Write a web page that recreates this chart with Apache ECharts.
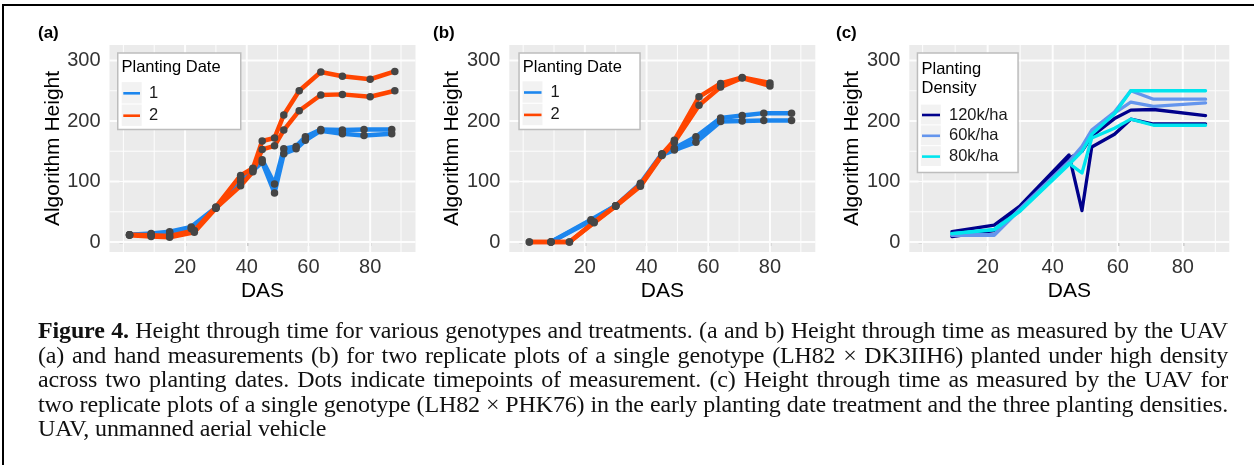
<!DOCTYPE html>
<html>
<head>
<meta charset="utf-8">
<script src="https://cdn.jsdelivr.net/npm/echarts@6/dist/echarts.min.js"></script>
<style>
  html, body { margin: 0; padding: 0; background: #fff; }
  #wrap { position: relative; width: 1254px; height: 465px; overflow: hidden; }
  #chart { position: absolute; left: 0; top: 0; width: 1254px; height: 465px; }
  #frame { position: absolute; left: 2px; top: 4px; right: -4px; bottom: -4px; border-left: 2px solid #000; border-top: 2px solid #000; }
  #caption { position: absolute; left: 38px; top: 318px; width: 1190px; font-family: "Liberation Serif", "DejaVu Serif", serif; font-size: 24px; letter-spacing: -0.15px; line-height: 24.5px; color: #111; }
  #caption .ln { white-space: nowrap; text-align: justify; text-align-last: justify; }
  #caption .last { text-align: left; text-align-last: left; }
</style>
</head>
<body>
<div id="wrap">
  <div id="chart"></div>
  <div id="frame"></div>
  <div id="caption">
    <div class="ln"><b>Figure 4.</b> Height through time for various genotypes and treatments. (a and b) Height through time as measured by the UAV</div>
    <div class="ln">(a) and hand measurements (b) for two replicate plots of a single genotype (LH82 × DK3IIH6) planted under high density</div>
    <div class="ln">across two planting dates. Dots indicate timepoints of measurement. (c) Height through time as measured by the UAV for</div>
    <div class="ln">two replicate plots of a single genotype (LH82 × PHK76) in the early planting date treatment and the three planting densities.</div>
    <div class="ln last">UAV, unmanned aerial vehicle</div>
  </div>
</div>
<script>
// ---------- tick values ----------
const xMajorTicks = [20, 40, 60, 80];
const xMinorTicks = [0, 10, 30, 50, 70, 90];
const yMajorTicks = [0, 100, 200, 300];
const yMinorTicks = [50, 150, 250];

// ---------- categories ----------
const panelLabels = ['(a)', '(b)', '(c)'];
const dateNames = ['1', '2'];
const densityNames = ['120k/ha', '60k/ha', '80k/ha'];

// ---------- (a) UAV height, [DAS, height] ----------
const aDate1RepA = [[2,12],[9,14],[15,17],[22,25],[30,57],[38,106],[42,121],[45,136],[49,96],[52,154],[56,158],[59,174],[64,186],[71,185],[78,186],[87,186]];
const aDate1RepB = [[2,12],[9,13],[15,15],[22,22],[30,56],[38,100],[42,118],[45,132],[49,81],[52,146],[56,154],[59,168],[64,184],[71,179],[78,176],[87,179]];
const aDate2RepA = [[2,12],[9,11],[15,10],[23,19],[30,58],[38,110],[42,122],[45,167],[49,172],[52,210],[57,250],[64,281],[71,274],[80,269],[88,282]];
const aDate2RepB = [[2,11],[9,9],[15,8],[23,16],[30,56],[38,93],[42,116],[45,153],[49,159],[52,185],[57,217],[64,243],[71,244],[80,240],[88,250]];

// ---------- (b) hand-measured height ----------
const bDate1RepA = [[9,0],[22,37],[30,60],[38,97],[45,146],[49,155],[56,174],[64,205],[71,209],[78,213],[87,213]];
const bDate1RepB = [[9,0],[22,35],[30,60],[38,94],[45,144],[49,152],[56,165],[64,199],[71,200],[78,201],[87,201]];
const bDate2RepA = [[2,0],[9,0],[15,0],[23,33],[30,60],[38,95],[45,145],[49,168],[57,240],[64,262],[71,272],[80,263]];
const bDate2RepB = [[2,0],[9,0],[15,0],[23,32],[30,59],[38,92],[45,143],[49,165],[57,226],[64,256],[71,271],[80,258]];

// ---------- (c) UAV height by planting density ----------
const c120RepA = [[9,17],[22,28],[30,60],[45,144],[49,52],[52,157],[59,178],[64,203],[71,195],[87,195]];
const c120RepB = [[9,9],[22,19],[30,57],[45,138],[49,150],[52,175],[59,204],[64,218],[71,219],[87,209]];
const c60RepA  = [[9,12],[22,12],[30,55],[45,133],[49,158],[52,185],[59,215],[64,250],[71,236],[87,236]];
const c60RepB  = [[9,11],[22,11],[30,54],[45,130],[49,155],[52,183],[59,213],[64,231],[71,224],[87,230]];
const c80RepA  = [[9,14],[22,21],[30,52],[45,130],[49,114],[52,172],[59,188],[64,203],[71,193],[87,193]];
const c80RepB  = [[9,14],[22,20],[30,51],[45,128],[49,150],[52,178],[59,212],[64,250],[71,250],[87,250]];

// ---------- styling ----------
const SANS = '"Liberation Sans", Arial, Helvetica, sans-serif';
const BLUE = '#1C86EE', ORANGE = '#FF4500';
const NAVY = '#00008B', CORN = '#6495ED', CYAN = '#00E5EE';
const PANEL_BG = '#EBEBEB';
const GRID_LINE = '#FDFDFD';

const grids = [
  { left: 109.5, top: 45, width: 306, height: 207 },
  { left: 509.3, top: 45, width: 306, height: 207 },
  { left: 909.3, top: 45, width: 320, height: 207 }
];
const xRanges = [[-4.5, 94.7], [-4.5, 94.7], [-4.1, 94.3]];
const yRange = [-16.5, 325.6];

const chart = echarts.init(document.getElementById('chart'));

const xAxes = grids.map((g, i) => ({
  type: 'value', gridIndex: i, min: xRanges[i][0], max: xRanges[i][1], splitNumber: 5,
  axisLine: { show: false },
  axisTick: { show: true, length: 4, customValues: xMajorTicks, lineStyle: { color: '#333', width: 1.2 } },
  axisLabel: { customValues: xMajorTicks, fontSize: 20, color: '#333', margin: 5, fontFamily: SANS,
    formatter: v => (xMajorTicks.indexOf(v) >= 0 ? String(v) : '') },
  splitLine: { show: false },
  name: 'DAS', nameLocation: 'middle', nameGap: 29,
  nameTextStyle: { fontSize: 21, color: '#000', fontFamily: SANS }
}));
const yAxes = grids.map((g, i) => ({
  type: 'value', gridIndex: i, min: yRange[0], max: yRange[1], splitNumber: 3,
  axisLine: { show: false },
  axisTick: { show: true, length: 4, customValues: yMajorTicks, lineStyle: { color: '#333', width: 1.2 } },
  axisLabel: { customValues: yMajorTicks, fontSize: 20, color: '#333', margin: 9, fontFamily: SANS,
    formatter: v => (yMajorTicks.indexOf(v) >= 0 ? String(v) : '') },
  splitLine: { show: false },
  name: 'Algorithm Height', nameLocation: 'middle', nameGap: 42,
  nameTextStyle: { fontSize: 21, color: '#000', fontFamily: SANS }
}));

// light grid lines drawn through the axes: one short series per grid line
function gridSeries(i, v, isX, width) {
  const data = isX ? [[v, yRange[0]], [v, yRange[1]]] : [[xRanges[i][0], v], [xRanges[i][1], v]];
  return {
    type: 'line', name: 'grid', data, xAxisIndex: i, yAxisIndex: i, symbol: 'none', showSymbol: false,
    z: 2, clip: false, silent: true, animation: false, emphasis: { disabled: true },
    lineStyle: { color: GRID_LINE, width, opacity: 1, type: 'solid' }, itemStyle: { color: GRID_LINE }
  };
}

function lineSeries(name, data, color, width, i) {
  return {
    type: 'line', name, data, xAxisIndex: i, yAxisIndex: i, symbol: 'none', z: 3,
    lineStyle: { color, width, cap: 'round', join: 'round' }, itemStyle: { color },
    emphasis: { disabled: true }, animation: false
  };
}
function pointSeries(arrs, i) {
  return {
    type: 'scatter', name: 'pts' + i, data: [].concat(...arrs), xAxisIndex: i, yAxisIndex: i,
    symbol: 'circle', symbolSize: 7.5, itemStyle: { color: '#454545', opacity: 1 }, z: 4,
    emphasis: { disabled: true }, animation: false
  };
}

const series = [];
[0, 1, 2].forEach(i => {
  xMinorTicks.forEach(v => series.push(gridSeries(i, v, true, 1)));
  yMinorTicks.forEach(v => series.push(gridSeries(i, v, false, 1)));
  xMajorTicks.forEach(v => series.push(gridSeries(i, v, true, 2)));
  yMajorTicks.forEach(v => series.push(gridSeries(i, v, false, 2)));
});
series.push(
  lineSeries(dateNames[0], aDate1RepA, BLUE, 4.5, 0),
  lineSeries(dateNames[0], aDate1RepB, BLUE, 4.5, 0),
  lineSeries(dateNames[1], aDate2RepA, ORANGE, 4.5, 0),
  lineSeries(dateNames[1], aDate2RepB, ORANGE, 4.5, 0),
  pointSeries([aDate1RepA, aDate1RepB, aDate2RepA, aDate2RepB], 0),
  lineSeries(dateNames[0], bDate1RepA, BLUE, 4.5, 1),
  lineSeries(dateNames[0], bDate1RepB, BLUE, 4.5, 1),
  lineSeries(dateNames[1], bDate2RepA, ORANGE, 4.5, 1),
  lineSeries(dateNames[1], bDate2RepB, ORANGE, 4.5, 1),
  pointSeries([bDate1RepA, bDate1RepB, bDate2RepA, bDate2RepB], 1),
  lineSeries(densityNames[0], c120RepA, NAVY, 3.3, 2),
  lineSeries(densityNames[0], c120RepB, NAVY, 3.3, 2),
  lineSeries(densityNames[1], c60RepA, CORN, 3.3, 2),
  lineSeries(densityNames[1], c60RepB, CORN, 3.3, 2),
  lineSeries(densityNames[2], c80RepA, CYAN, 3.3, 2),
  lineSeries(densityNames[2], c80RepB, CYAN, 3.3, 2)
);

function legendCfg(names, left, top, gap, iw) {
  return {
    data: names, orient: 'vertical', left, top, itemGap: gap, itemWidth: iw, itemHeight: 2.6,
    icon: 'rect', padding: 0, selectedMode: false, backgroundColor: 'transparent', z: 8,
    textStyle: { fontSize: 16.5, color: '#1a1a1a', fontFamily: SANS, lineHeight: 20, padding: [0, 0, 0, 4] }
  };
}

// legend boxes, key backgrounds and titles (decoration)
const graphic = [];
function legendBox(x, y, w, h) {
  graphic.push({ type: 'rect', left: x, top: y, z: 5, silent: true,
    shape: { width: w, height: h }, style: { fill: '#fff', stroke: '#BDBDBD', lineWidth: 1.5 } });
}
function keyBg(x, cy, h) {
  graphic.push({ type: 'rect', left: x, top: cy - h / 2, z: 6, silent: true,
    shape: { width: 20, height: h - 1 }, style: { fill: '#F2F2F2' } });
}
function txt(s, x, y, size, bold) {
  graphic.push({ type: 'text', left: x, top: y, z: 10, silent: true,
    style: { text: s, fontSize: size, fontFamily: SANS, fontWeight: bold ? 'bold' : 'normal', fill: '#000' } });
}
// (a)
legendBox(117, 52.3, 123, 76.5);
txt('Planting Date', 121.5, 58.5, 16.5);
keyBg(121.7, 93.3, 22.4); keyBg(121.7, 115.7, 22.4);
// (b)
legendBox(518.3, 52.3, 121, 76.5);
txt('Planting Date', 522.8, 58.5, 16.5);
keyBg(522.5, 92.5, 22.4); keyBg(522.5, 115, 22.4);
// (c)
legendBox(916.7, 52.3, 100.6, 119.4);
txt('Planting', 921.5, 61, 16.5);
txt('Density', 921.5, 79.5, 16.5);
keyBg(920.8, 115, 20.8); keyBg(920.8, 135.8, 20.8); keyBg(920.8, 156.6, 20.8);
// panel letters
txt(panelLabels[0], 38, 25, 17, true);
txt(panelLabels[1], 433, 25, 17, true);
txt(panelLabels[2], 836, 25, 17, true);

const option = {
  animation: false,
  backgroundColor: '#fff',
  grid: grids.map(g => Object.assign({ show: true, backgroundColor: PANEL_BG, borderWidth: 0, containLabel: false }, g)),
  xAxis: xAxes,
  yAxis: yAxes,
  legend: [
    legendCfg(dateNames, 123.3, 83.3, 2.4, 16.7),
    legendCfg(dateNames, 524, 82.5, 2.4, 17.5),
    legendCfg(densityNames, 922, 105, 0.8, 18)
  ],
  graphic,
  series
};
chart.setOption(option);
</script>
</body>
</html>
